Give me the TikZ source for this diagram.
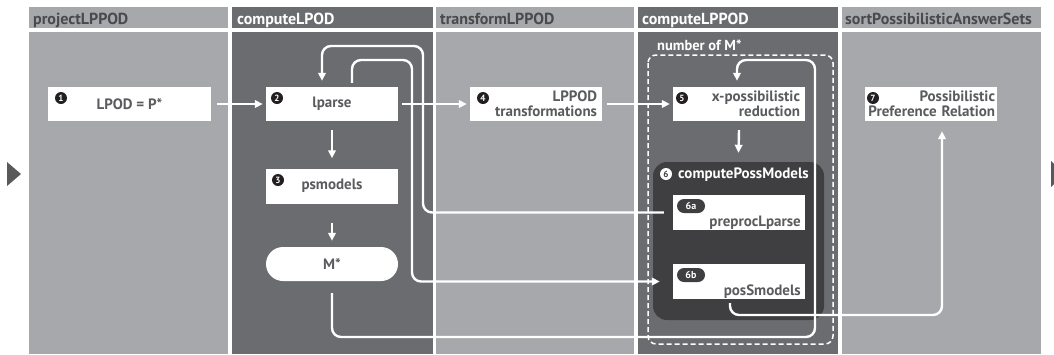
\documentclass[tikz,border=0pt]{standalone}
\usepackage{fontspec}
\setmainfont{PT Sans}
\usetikzlibrary{arrows.meta}
\definecolor{panelL}{HTML}{A7A8AB}
\definecolor{panelD}{HTML}{6B6C70}
\definecolor{boxD}{HTML}{3F3F41}
\definecolor{ink}{HTML}{5A5B5E}
\definecolor{hdrink}{HTML}{4A4A4D}
\definecolor{numc}{HTML}{231F20}
\definecolor{tric}{HTML}{58595B}

\begin{document}
\begin{tikzpicture}[x=1pt,y=-1pt,
  box/.style={fill=white, inner sep=0pt, minimum width=132, minimum height=34,
    font=\bfseries\fontsize{15}{15}\selectfont, text=ink},
  rbox/.style={box, text width=122, align=right},
  num/.style={circle, fill=numc, text=white, inner sep=0pt, minimum size=12,
    font=\bfseries\fontsize{9}{9}\selectfont},
  pill/.style={fill=boxD, rounded corners=7, minimum width=28, minimum height=14,
    inner sep=0pt, text=white, font=\bfseries\fontsize{10}{10}\selectfont},
  lbl/.style={inner sep=0pt, text=ink, font=\bfseries\fontsize{15}{15}\selectfont},
  hdr/.style={anchor=base west, inner sep=0pt, font=\bfseries\fontsize{16}{16}\selectfont},
  wire/.style={draw=white, line width=2.4pt, rounded corners=9},
  conn/.style={wire, -{Triangle[length=8pt,width=7.5pt]}},
]
\useasboundingbox (0,0) rectangle (1054,354);
\clip (0,0) rectangle (1054,354);

% column panels and headers
\fill[panelL] (29,7) rectangle (228,28);   \fill[panelL] (29,32) rectangle (228,354);
\fill[panelD] (232,7) rectangle (433,28);  \fill[panelD] (232,32) rectangle (433,354);
\fill[panelL] (436,7) rectangle (634,28);  \fill[panelL] (436,32) rectangle (634,354);
\fill[panelD] (638,7) rectangle (838,28);  \fill[panelD] (638,32) rectangle (838,354);
\fill[panelL] (842,7) rectangle (1041,28); \fill[panelL] (842,32) rectangle (1041,354);

\node[hdr, text=hdrink] (h1) at (33,24.5) {projectLPPOD};
\node[hdr, text=white]  (h2) at (237,24.5) {computeLPOD};
\node[hdr, text=hdrink] (h3) at (440,24.5) {transformLPPOD};
\node[hdr, text=white]  (h4) at (642,24.5) {computeLPPOD};
\node[hdr, text=hdrink] (h5) at (845,24.5) {sortPossibilisticAnswerSets};

% side markers
\fill[tric] (7,162) -- (7,186) -- (21,174) -- cycle;
\fill[tric] (1051,161) -- (1051,187) -- (1065,174) -- cycle;

% iteration frame
\draw[white, line width=1.5pt, dash pattern=on 5pt off 3pt, rounded corners=8]
  (648,55) rectangle (833,344);
\node[hdr, text=white, font=\bfseries\fontsize{14.5}{14.5}\selectfont] (nm) at (657,50) {number of M*};

% computePossModels block
\node[fill=boxD, rounded corners=14, minimum width=171, minimum height=158, inner sep=0pt]
  (cpm) at (738.5,241) {};
\node[circle, fill=white, text=boxD, inner sep=0pt, minimum size=12,
  font=\bfseries\fontsize{9}{9}\selectfont] (c6) at (666,174) {6};
\node[hdr, text=white, font=\bfseries\fontsize{15}{15}\selectfont] (cpmt) at (678,178.5) {computePossModels};

% process boxes
\node[box, minimum width=163] (n1) at (129.5,104) {LPOD = P*};
\node[box] (n2) at (332,104) {lparse};
\node[box, minimum height=35] (n3) at (332,186) {psmodels};
\node[box, rounded corners=17] (ms) at (332,264) {M*};
\node[rbox] (n4) at (536,104) {LPPOD\\transformations};
\node[rbox] (n5) at (739,104) {x-possibilistic\\reduction};
\node[box, text width=128, align=right] (n7) at (931,104) {Possibilistic\\Preference Relation};

\node[box, minimum height=35] (p6a) at (739,212.5) {};
\node[box, minimum height=35] (p6b) at (739,281.5) {};
\node[lbl, anchor=base east] (t6a) at (801,226) {preprocLparse};
\node[lbl, anchor=base east] (t6b) at (801,295) {posSmodels};
\node[pill] (b6a) at (691,206) {6a};
\node[pill] (b6b) at (691,275) {6b};

% step numbers
\node[num] (k1) at (61,98) {1};
\node[num] (k2) at (277,98) {2};
\node[num] (k3) at (278,180) {3};
\node[num] (k4) at (483,98) {4};
\node[num] (k5) at (682,98) {5};
\node[num] (k7) at (873,98) {7};

% feedback loops
\draw[conn] ([xshift=-9pt]p6a.west) -| (423,46) -| ([xshift=-10pt,yshift=6pt]n2.north);
\draw[conn] ([xshift=20pt,yshift=4pt]n2.north) |- (412,60) |- ([xshift=-13pt]p6b.west);
\draw[conn] ([yshift=-12pt]ms.south) |- (815,337) |- (737,60) -- ([xshift=-2pt,yshift=6pt]n5.north);
\draw[conn] ([xshift=-9pt,yshift=-4pt]p6b.south) |- (942,315) -- ([xshift=11pt,yshift=-10pt]n7.south);

% main flow
\draw[conn] ([xshift=6pt]n1.east) -- ([xshift=-3pt]n2.west);
\draw[conn] ([xshift=4pt]n2.east) -- ([xshift=-3pt]n4.west);
\draw[conn] ([xshift=5pt]n4.east) -- ([xshift=-3pt]n5.west);
\draw[conn] ([yshift=-9pt]n2.south) -- ([yshift=10pt]n3.north);
\draw[conn] ([yshift=-19pt]n3.south) -- ([yshift=6pt]ms.north);
\draw[conn] ([yshift=-9pt]n5.south) -- ([yshift=9pt]cpm.north);
\end{tikzpicture}
\end{document}
